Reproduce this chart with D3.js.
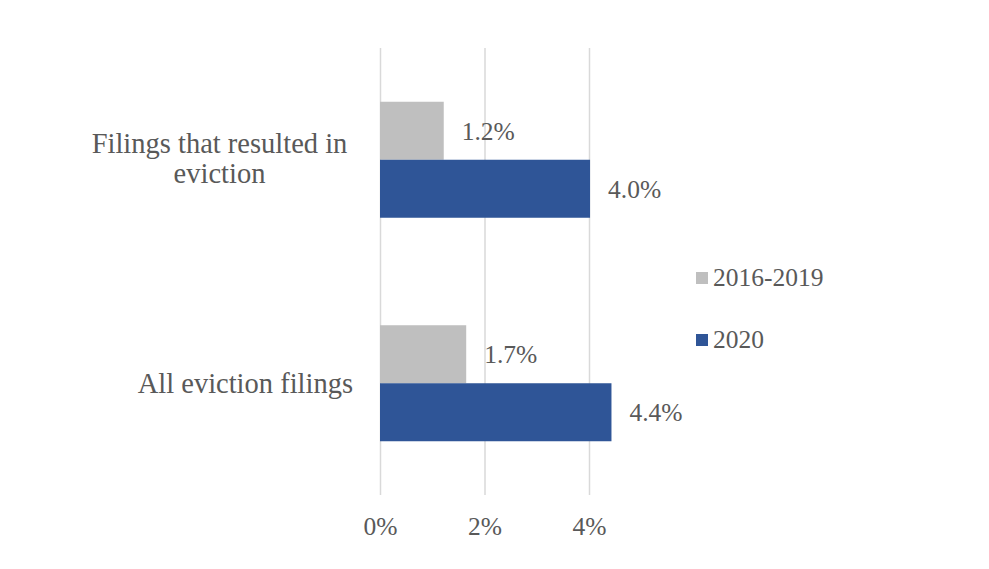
<!DOCTYPE html>
<html><head><meta charset="utf-8">
<script src="https://cdn.jsdelivr.net/npm/d3@7"></script>
<style>
body{margin:0;background:#fff;}
svg{display:block;font-family:"Liberation Serif","Times New Roman",serif;}
</style></head><body>
<script>
const categories = ["Filings that resulted in eviction", "All eviction filings"];
const categoryLines = [["Filings that resulted in", "eviction"], ["All eviction filings"]];
const seriesNames = ["2016-2019", "2020"];
const values2016_2019 = [1.22, 1.65];
const values2020 = [4.02, 4.43];
const valueLabels2016_2019 = ["1.2%", "1.7%"];
const valueLabels2020 = ["4.0%", "4.4%"];
const tickValues = [0, 2, 4];
const tickLabels = ["0%", "2%", "4%"];
const colors = ["#BFBFBF", "#2F5597"];

const W = 989, H = 569;
const svg = d3.select("body").append("svg").attr("width", W).attr("height", H);
const x = d3.scaleLinear().domain([0, 4]).range([380, 589]);
const y = d3.scaleBand().domain(categories).range([48, 495]).paddingInner(0.481).paddingOuter(0.2405);
const ySub = d3.scaleBand().domain(seriesNames).range([0, y.bandwidth()]);
const textColor = "#595959";

// gridlines
const grid = svg.append("g").attr("transform", "translate(0,495)")
  .call(d3.axisBottom(x).tickValues(tickValues).tickSize(-447).tickFormat(""));
grid.select(".domain").remove();
grid.selectAll("line").attr("stroke", "#D9D9D9").attr("stroke-width", 1.5);

// x tick labels
const xa = svg.append("g").attr("transform", "translate(0,495)")
  .call(d3.axisBottom(x).tickValues(tickValues).tickSize(0).tickPadding(0).tickFormat((d, i) => tickLabels[i]));
xa.select(".domain").remove();
xa.selectAll("text").attr("y", 40).attr("dy", null).attr("font-size", "25.5px")
  .attr("fill", textColor).attr("font-family", '"Liberation Serif","Times New Roman",serif');

// bars
const series = [values2016_2019, values2020];
const labels = [valueLabels2016_2019, valueLabels2020];
series.forEach((vals, si) => {
  const g = svg.append("g");
  g.selectAll("rect").data(categories).join("rect")
    .attr("x", x(0))
    .attr("y", (c) => y(c) + ySub(seriesNames[si]))
    .attr("width", (c, i) => x(vals[i]) - x(0))
    .attr("height", ySub.bandwidth())
    .attr("fill", colors[si]);
  g.selectAll("text").data(categories).join("text")
    .attr("x", (c, i) => x(vals[i]) + 18)
    .attr("y", (c) => y(c) + ySub(seriesNames[si]) + ySub.bandwidth() / 2 + 9)
    .attr("font-size", "25.5px").attr("fill", textColor)
    .text((c, i) => labels[si][i]);
});

// category labels
categories.forEach((c, i) => {
  const lines = categoryLines[i];
  const cy = y(c) + y.bandwidth() / 2;
  const t = svg.append("text").attr("font-size", "28.5px").attr("fill", textColor);
  if (lines.length === 1) {
    t.attr("text-anchor", "end").attr("x", 353).attr("y", cy + 9.5).text(lines[0]);
  } else {
    lines.forEach((l, j) => {
      t.append("tspan").attr("text-anchor", "middle").attr("x", 219.5)
        .attr("y", cy - 7 + j * 30).text(l);
    });
  }
});

// legend
const legend = svg.append("g");
seriesNames.forEach((s, i) => {
  const ly = 272 + i * 62;
  legend.append("rect").attr("x", 696).attr("y", ly).attr("width", 12).attr("height", 12).attr("fill", colors[i]);
  legend.append("text").attr("x", 713).attr("y", ly + 14).attr("font-size", "25.5px").attr("fill", textColor).text(s);
});
</script>
</body></html>
